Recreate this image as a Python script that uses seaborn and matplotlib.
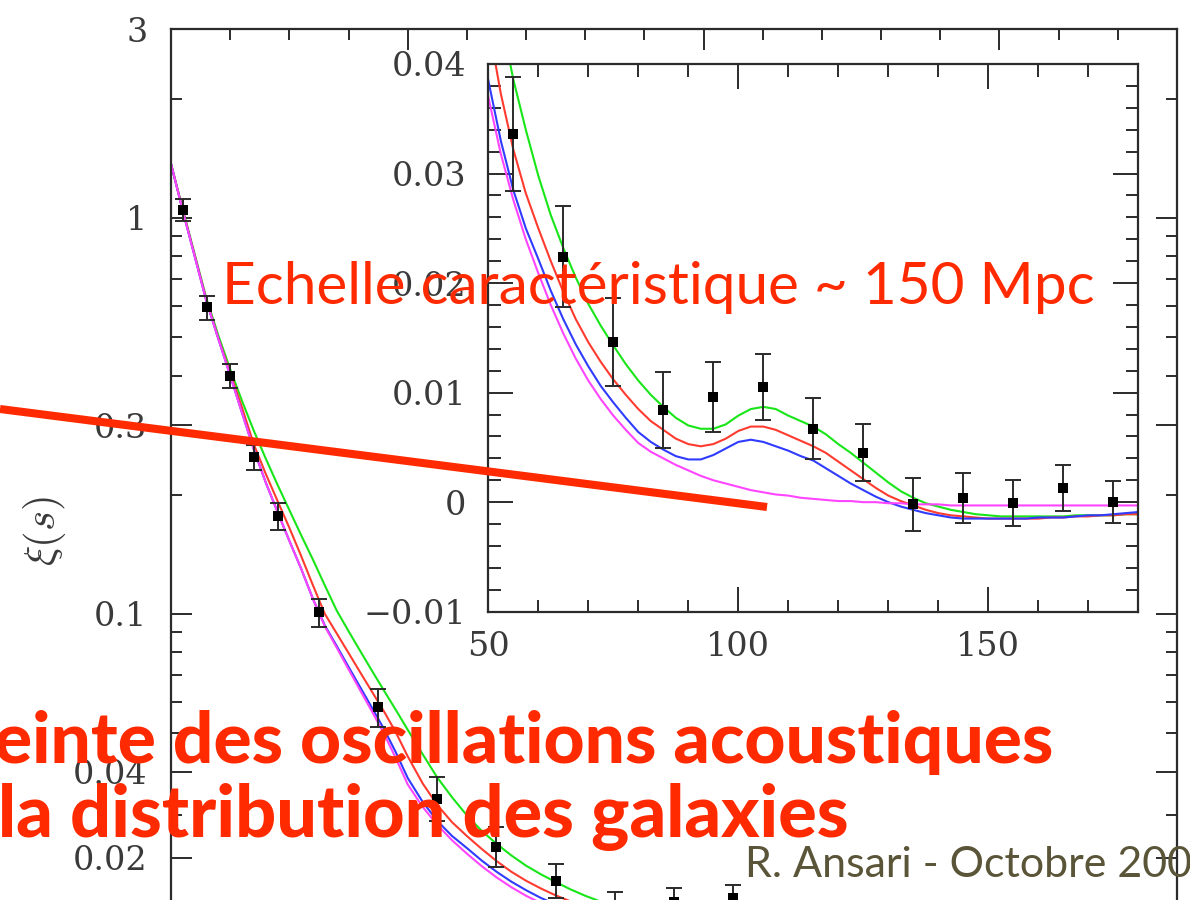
import numpy as np
import pandas as pd
import matplotlib
matplotlib.use("Agg")
import matplotlib.pyplot as plt
import seaborn as sns
from matplotlib.lines import Line2D
from matplotlib.ticker import FixedLocator, FixedFormatter, NullFormatter

sns.set_style("white")
plt.rcParams["font.family"] = ["DejaVu Serif"]
plt.rcParams["mathtext.fontset"] = "cm"

# ---------------- data ----------------
s_model = [10, 12, 14, 16, 18, 20, 22, 24, 26, 28, 30, 32, 34, 36, 38, 40, 42, 44, 46, 48,
           50, 52.5, 55, 57.5, 60, 62.5, 65, 67.5, 70, 72.5, 75, 77.5, 80, 82.5, 85, 87.5,
           90, 92.5, 95, 97.5, 100, 102.5, 105, 107.5, 110, 112.5, 115, 117.5, 120, 122.5,
           125, 127.5, 130, 132.5, 135, 137.5, 140, 142.5, 145, 147.5, 150, 152.5, 155,
           157.5, 160, 162.5, 165, 167.5, 170, 172.5, 175, 177.5, 180]

xi_green = [1.37, 1.05, 0.81, 0.625, 0.505, 0.415, 0.345, 0.290, 0.247, 0.212, 0.183, 0.158,
            0.137, 0.118, 0.102, 0.0905, 0.0805, 0.0717, 0.0640, 0.0572,
            0.0510, 0.0443, 0.0386, 0.0340, 0.0298, 0.0262, 0.0232, 0.0205, 0.0181, 0.0161,
            0.0143, 0.0126, 0.0111, 0.0098, 0.0087, 0.0077, 0.0070, 0.0067, 0.0067, 0.0071,
            0.0079, 0.0085, 0.0087, 0.0085, 0.0079, 0.0074, 0.0069, 0.0062, 0.0053, 0.0045,
            0.0036, 0.0027, 0.0018, 0.0010, 0.0004, -0.0001, -0.0004, -0.0007, -0.0009,
            -0.0011, -0.0012, -0.0013, -0.0013, -0.0013, -0.0013, -0.0013, -0.0013, -0.0012,
            -0.0012, -0.0012, -0.0012, -0.0011, -0.0011]

xi_red = [1.37, 1.045, 0.805, 0.62, 0.497, 0.407, 0.332, 0.268, 0.226, 0.193, 0.165, 0.140,
          0.118, 0.100, 0.0893, 0.0797, 0.0711, 0.0635, 0.0567, 0.0502,
          0.0437, 0.0373, 0.0322, 0.0282, 0.0250, 0.0220, 0.0192, 0.0167, 0.0146, 0.0128,
          0.0112, 0.0098, 0.0085, 0.0074, 0.0066, 0.0058, 0.0053, 0.0051, 0.0053, 0.0058,
          0.0065, 0.0069, 0.0069, 0.0066, 0.0061, 0.0056, 0.0051, 0.0045, 0.0037, 0.0029,
          0.0021, 0.0013, 0.0006, 0.0001, -0.0003, -0.0007, -0.0010, -0.0012, -0.0013,
          -0.0014, -0.0015, -0.0015, -0.0015, -0.0015, -0.0015, -0.0014, -0.0014, -0.0013,
          -0.0013, -0.0012, -0.0012, -0.0011, -0.0011]

xi_blue = [1.37, 1.04, 0.80, 0.615, 0.495, 0.40, 0.322, 0.260, 0.215, 0.181, 0.153, 0.130,
           0.109, 0.0935, 0.0830, 0.0735, 0.0652, 0.0578, 0.0512, 0.0447,
           0.0385, 0.0330, 0.0285, 0.0250, 0.0222, 0.0193, 0.0167, 0.0144, 0.0124, 0.0106,
           0.0091, 0.0077, 0.0064, 0.0055, 0.0048, 0.0042, 0.0039, 0.0039, 0.0043, 0.0049,
           0.0055, 0.0057, 0.0055, 0.0051, 0.0047, 0.0042, 0.0038, 0.0031, 0.0024, 0.0017,
           0.0011, 0.0005, 0.0000, -0.0004, -0.0007, -0.0010, -0.0012, -0.0014, -0.0015,
           -0.0015, -0.0015, -0.0015, -0.0015, -0.0015, -0.0014, -0.0014, -0.0014, -0.0013,
           -0.0012, -0.0012, -0.0011, -0.0010, -0.0009]

xi_magenta = [1.37, 1.04, 0.80, 0.615, 0.495, 0.40, 0.322, 0.260, 0.215, 0.181, 0.153, 0.130,
              0.109, 0.0930, 0.0822, 0.0725, 0.0640, 0.0566, 0.0498, 0.0432,
              0.0370, 0.0318, 0.0276, 0.0240, 0.0209, 0.0180, 0.0154, 0.0131, 0.0111, 0.0094,
              0.0079, 0.0066, 0.0054, 0.0046, 0.0040, 0.0034, 0.0029, 0.0024, 0.0020, 0.0017,
              0.0014, 0.0011, 0.0009, 0.0007, 0.0006, 0.0004, 0.0003, 0.0002, 0.0001, 0.0001,
              0.0000, 0.0000, -0.0001, -0.0001, -0.0002, -0.0002, -0.0002, -0.0003, -0.0003,
              -0.0003, -0.0003, -0.0003, -0.0003, -0.0003, -0.0003, -0.0003, -0.0003, -0.0003,
              -0.0003, -0.0003, -0.0003, -0.0003, -0.0003]

model_names = ["green", "red", "blue", "magenta"]
model_colors = ["#18e618", "#ff3b2f", "#2f3bff", "#ff45ff"]

s_data = [12, 16, 20, 24, 28, 35, 45, 55, 65, 75, 85, 95, 105, 115, 125, 135, 145, 155, 165, 175]
xi_data = [1.05, 0.595, 0.400, 0.249, 0.177, 0.101, 0.0583, 0.0336, 0.0224, 0.0146, 0.0084,
           0.0096, 0.0105, 0.0067, 0.0045, -0.0002, 0.0004, -0.0001, 0.0013, 0.0000]
xi_err = [0.066, 0.042, 0.027, 0.018, 0.014, 0.0083, 0.0065, 0.0052, 0.0046, 0.0040, 0.0035,
          0.0032, 0.0030, 0.0028, 0.0026, 0.0024, 0.0023, 0.0021, 0.0021, 0.0019]

# main panel: only the labels visible in the crop are written
main_major_y = [3, 1, 0.3, 0.1, 0.04, 0.02, 0, -0.02]
main_major_y_labels = ["3", "1", "0.3", "0.1", "0.04", "0.02", "", ""]
main_minor_y = [2, 0.9, 0.8, 0.7, 0.6, 0.5, 0.4, 0.2, 0.09, 0.08, 0.07, 0.06, 0.05, 0.03,
                0.01, -0.01]
main_major_x = [50, 100, 150]
main_minor_x = [20, 30, 40, 60, 70, 80, 90, 110, 120, 130, 140, 160, 170]

inset_major_y = [0.04, 0.03, 0.02, 0.01, 0, -0.01]
inset_major_y_labels = ["0.04", "0.03", "0.02", "0.01", "0", "\u22120.01"]
inset_minor_y = [0.038, 0.036, 0.034, 0.032, 0.028, 0.026, 0.024, 0.022, 0.018, 0.016,
                 0.014, 0.012, 0.008, 0.006, 0.004, 0.002, -0.002, -0.004, -0.006, -0.008]
inset_major_x = [50, 100, 150]
inset_major_x_labels = ["50", "100", "150"]
inset_minor_x = [60, 70, 80, 90, 110, 120, 130, 140, 160, 170]

title_text = "Echelle caract\u00e9ristique ~ 150 Mpc"
bold_line1 = "einte des oscillations acoustiques"
bold_line2 = "la distribution des galaxies"
footer_text = "R. Ansari - Octobre 200"

# ---------------- scale: log above 0.04, linear below ----------------
Y0 = 0.04
LN10 = np.log(10.0)


def fwd(y):
    y = np.asarray(y, dtype=float)
    lin = np.log10(Y0) + (y - Y0) / (Y0 * LN10)
    lg = np.log10(np.clip(y, Y0, None))
    return np.where(y >= Y0, lg, lin)


def inv(u):
    u = np.asarray(u, dtype=float)
    L0 = np.log10(Y0)
    lg = np.power(10.0, np.clip(u, L0, 20.0))
    lin = Y0 + (u - L0) * Y0 * LN10
    return np.where(u >= L0, lg, lin)


# ---------------- layout (pixels) ----------------
W, H = 1190, 900
fig = plt.figure(figsize=(W / 100, H / 100), dpi=100, facecolor="white")


def add_px_axes(left, top, right, bottom):
    return fig.add_axes([left / W, 1 - bottom / H, (right - left) / W, (bottom - top) / H])


main_xlim = (10, 180)
main_ylim = (-0.02, 3)
PX_DEC = 396.0
MAIN_T = 29.0
MAIN_B = MAIN_T + PX_DEC * float(fwd(main_ylim[1]) - fwd(main_ylim[0]))
ax = add_px_axes(171, MAIN_T, 1177, MAIN_B)
axi = add_px_axes(488.3, 64, 1138.3, 611.7)
axi.set_zorder(1)

RED = "#ff2a00"
SPINE = "#2b2b2b"
TXT = "#3a3a3a"

df = pd.DataFrame({
    "s": s_model * 4,
    "xi": xi_green + xi_red + xi_blue + xi_magenta,
    "model": [m for m in model_names for _ in s_model],
})

for a in (ax, axi):
    a.set_facecolor("white")
    sns.lineplot(data=df, x="s", y="xi", hue="model", hue_order=model_names,
                 palette=model_colors, estimator=None, sort=False, legend=False,
                 linewidth=1.5, ax=a, zorder=2)
    a.errorbar(s_data, xi_data, yerr=xi_err, fmt="none", ecolor="#2a2a2a",
               elinewidth=1.4, capsize=5.5, capthick=1.4, zorder=3)
    sns.scatterplot(x=s_data, y=xi_data, marker="s", s=58, color="black",
                    edgecolor="black", linewidth=0, ax=a, zorder=4)
    a.set_xlabel("")
    a.set_ylabel("")
    for sp in a.spines.values():
        sp.set_visible(True)
        sp.set_color(SPINE)
        sp.set_linewidth(1.6)

# main axes
ax.set_yscale("function", functions=(fwd, inv))
ax.set_xlim(*main_xlim)
ax.set_ylim(*main_ylim)
ax.yaxis.set_major_locator(FixedLocator(main_major_y))
ax.yaxis.set_major_formatter(FixedFormatter(main_major_y_labels))
ax.yaxis.set_minor_locator(FixedLocator(main_minor_y))
ax.yaxis.set_minor_formatter(NullFormatter())
ax.xaxis.set_major_locator(FixedLocator(main_major_x))
ax.xaxis.set_minor_locator(FixedLocator(main_minor_x))
ax.xaxis.set_minor_formatter(NullFormatter())
ax.tick_params(which="both", direction="in", top=True, right=True, bottom=True, left=True,
               color=SPINE, width=1.4, labelcolor=TXT, labelsize=24, pad=17,
               labelbottom=False)
ax.tick_params(which="major", length=15)
ax.tick_params(which="minor", length=8)

# inset axes
axi.set_xlim(50, 180)
axi.set_ylim(-0.01, 0.04)
axi.yaxis.set_major_locator(FixedLocator(inset_major_y))
axi.yaxis.set_major_formatter(FixedFormatter(inset_major_y_labels))
axi.yaxis.set_minor_locator(FixedLocator(inset_minor_y))
axi.yaxis.set_minor_formatter(NullFormatter())
axi.xaxis.set_major_locator(FixedLocator(inset_major_x))
axi.xaxis.set_major_formatter(FixedFormatter(inset_major_x_labels))
axi.xaxis.set_minor_locator(FixedLocator(inset_minor_x))
axi.xaxis.set_minor_formatter(NullFormatter())
axi.tick_params(which="both", direction="in", top=True, right=True, bottom=True, left=True,
                color=SPINE, width=1.4, labelcolor=TXT, labelsize=24)
axi.tick_params(axis="y", pad=16)
axi.tick_params(axis="x", pad=14)
axi.tick_params(which="major", length=18)
axi.tick_params(which="minor", length=9)

# y label of the main panel
fig.text(44 / W, 1 - 531 / H, r"$\xi(s)$", rotation=90, ha="center", va="center",
         fontsize=31, color=TXT)

# slide overlays
fig.add_artist(Line2D([0, 767 / W], [1 - 409 / H, 1 - 507 / H], transform=fig.transFigure,
                      color=RED, linewidth=5.8, solid_capstyle="butt", zorder=2.5))
t_title = fig.text(222 / W, 1 - 304 / H, title_text, family=["Lato", "DejaVu Sans"],
                   fontsize=42, color=RED, ha="left", va="baseline", zorder=3)
t_b1 = fig.text(-6 / W, 1 - 763 / H, bold_line1, family=["Lato", "DejaVu Sans"],
                fontweight="black", fontsize=44, color=RED, ha="left", va="baseline", zorder=3)
t_b2 = fig.text(-2 / W, 1 - 837 / H, bold_line2, family=["Lato", "DejaVu Sans"],
                fontweight="black", fontsize=44, color=RED, ha="left", va="baseline", zorder=3)
t_ft = fig.text(745 / W, 1 - 877 / H, footer_text, family=["Lato", "DejaVu Sans"],
                fontsize=31, color="#5a5538", ha="left", va="baseline", zorder=3)

# fit the width of the slide texts to the span they cover in the slide
renderer = fig.canvas.get_renderer()
for txt, width_px in ((t_title, 875.0), (t_b1, 1061.0), (t_b2, 850.0)):
    w = txt.get_window_extent(renderer).width
    txt.set_fontsize(txt.get_fontsize() * width_px / w)

fig.savefig("out.png", dpi=100, facecolor="white")
